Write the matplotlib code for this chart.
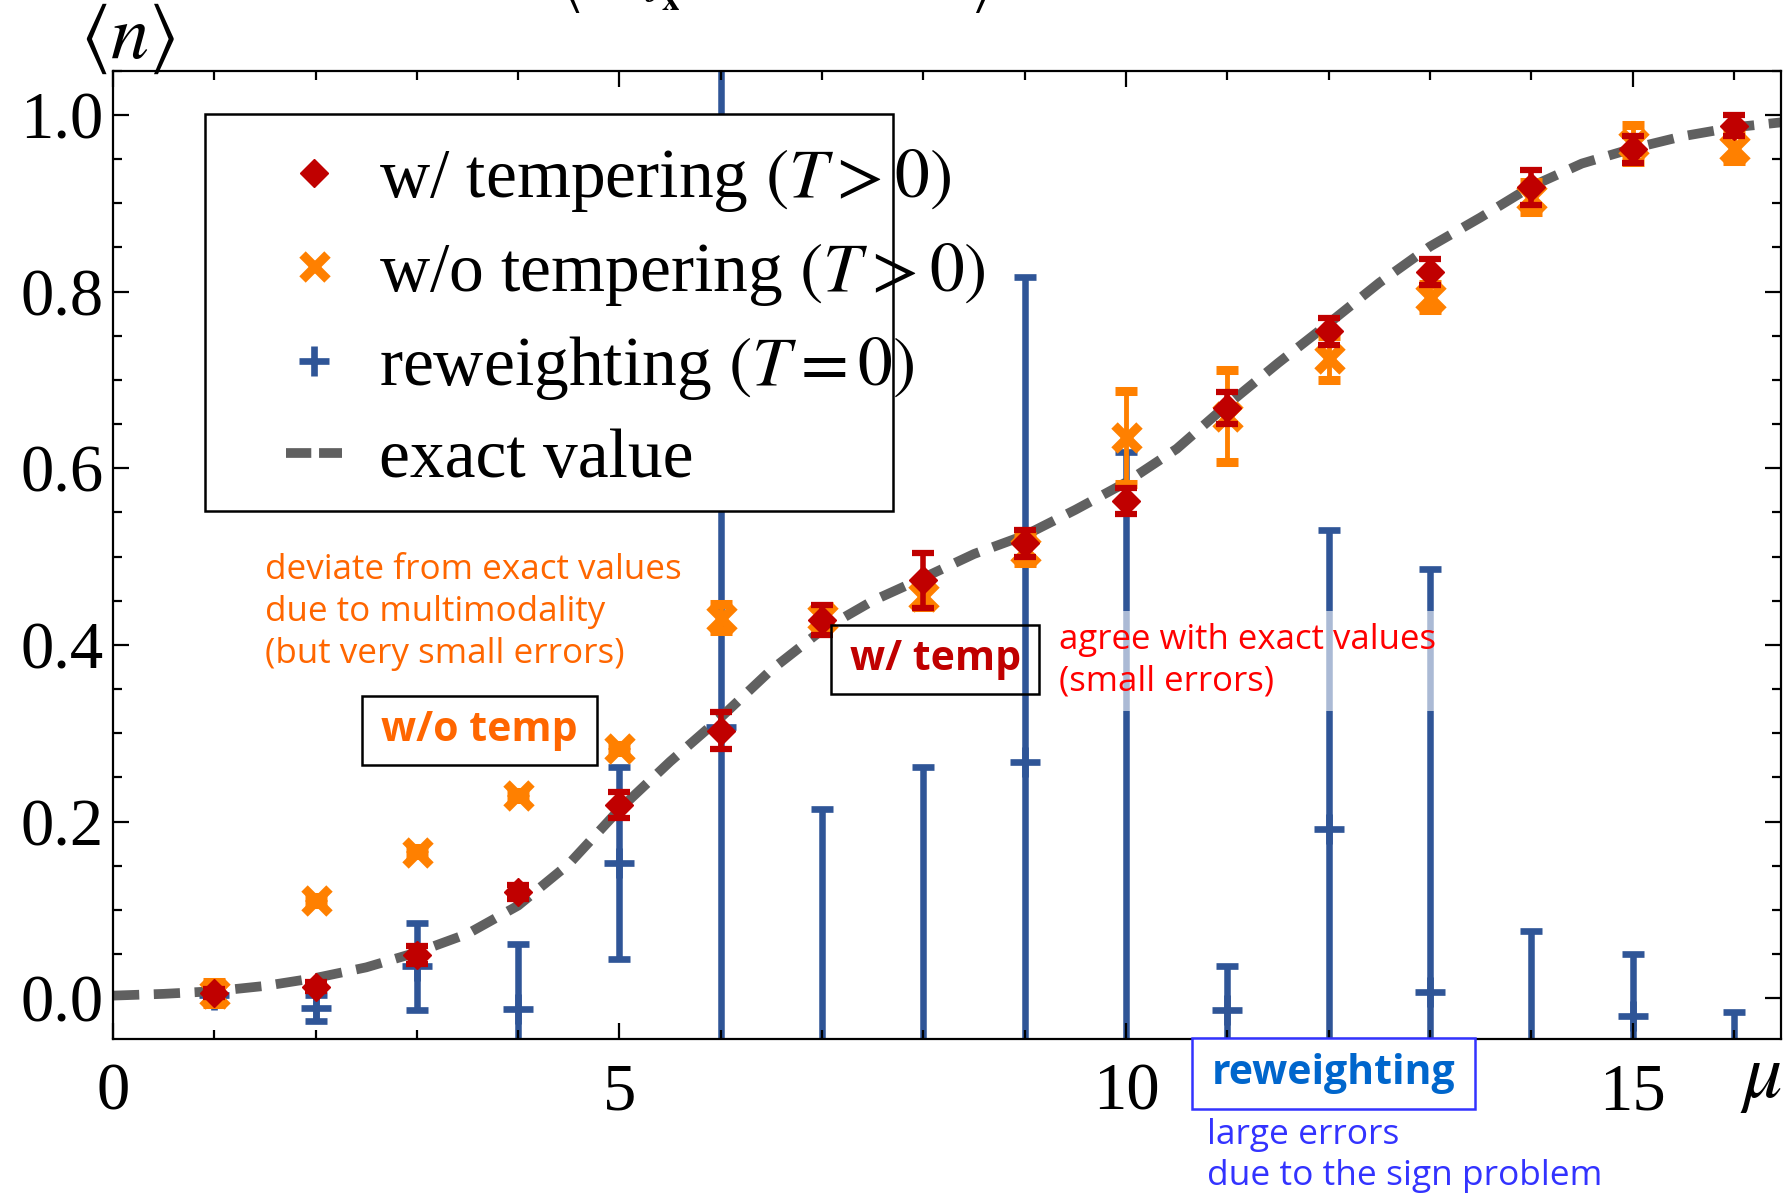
import matplotlib
matplotlib.use("Agg")
import matplotlib.pyplot as plt
from matplotlib.lines import Line2D
from matplotlib.patches import Rectangle
from matplotlib.ticker import MultipleLocator

plt.rcParams['font.family'] = 'Liberation Serif'
plt.rcParams['mathtext.fontset'] = 'stix'

# chemical potential points
mu = [1, 2, 3, 4, 5, 6, 7, 8, 9, 10, 11, 12, 13, 14, 15, 16]

# with tempering (T > 0)
n_temp = [0.006, 0.013, 0.049, 0.120, 0.219, 0.303, 0.428, 0.473, 0.515, 0.563,
          0.668, 0.755, 0.822, 0.918, 0.961, 0.988]
err_temp = [0.005, 0.005, 0.010, 0.008, 0.015, 0.021, 0.017, 0.031, 0.015, 0.015,
            0.018, 0.015, 0.015, 0.020, 0.015, 0.012]

# without tempering (T > 0)
n_notemp = [0.006, 0.111, 0.166, 0.230, 0.283, 0.431, 0.432, 0.455, 0.508, 0.635,
            0.659, 0.725, 0.794, 0.907, 0.968, 0.963]
err_notemp = [0.012, 0.004, 0.004, 0.004, 0.004, 0.015, 0.012, 0.012, 0.015, 0.053,
              0.052, 0.025, 0.015, 0.017, 0.021, 0.015]

# reweighting (T = 0)
n_rew = [0.004, -0.011, 0.036, -0.012, 0.153, 0.307, -0.100, -0.120, 0.268, -0.250,
         -0.013, 0.192, 0.007, -0.090, -0.020, -0.075]
err_rew = [0.006, 0.015, 0.049, 0.073, 0.109, 0.900, 0.314, 0.382, 0.548, 0.868,
           0.049, 0.338, 0.479, 0.166, 0.070, 0.060]

# exact curve
mu_exact = [0.0, 0.5, 1.0, 1.5, 2.0, 2.5, 3.0, 3.5, 4.0, 4.5, 5.0, 5.5, 6.0, 6.5,
            7.0, 7.5, 8.0, 8.5, 9.0, 9.5, 10.0, 10.5, 11.0, 11.5, 12.0, 12.5,
            13.0, 13.5, 14.0, 14.5, 15.0, 15.5, 16.0, 16.5]
n_exact = [0.003, 0.005, 0.008, 0.014, 0.023, 0.035, 0.052, 0.073, 0.105, 0.152,
           0.214, 0.268, 0.318, 0.372, 0.417, 0.450, 0.476, 0.503, 0.524, 0.553,
           0.584, 0.622, 0.672, 0.719, 0.764, 0.810, 0.851, 0.884, 0.919, 0.945,
           0.962, 0.976, 0.986, 0.992]

c_red = '#C00000'
c_orange = '#FF8000'
c_blue = '#2F5597'
c_gray = '#606060'

fig = plt.figure(figsize=(17.85, 11.98), dpi=100)
ax = fig.add_axes([0.0633, 0.1328, 0.9347, 0.8081])

ax.errorbar(mu, n_rew, yerr=err_rew, fmt='+', color=c_blue, ms=22, mew=4.8,
            elinewidth=4.7, capsize=8, capthick=4.7, zorder=1)
ax.plot(mu_exact, n_exact, color=c_gray, lw=7, ls=(0, (2.7, 1.5)),
        dash_capstyle='butt', zorder=2)
ax.errorbar(mu, n_notemp, yerr=err_notemp, fmt='x', color=c_orange, ms=18, mew=6.5,
            elinewidth=3.5, capsize=8, capthick=4.5, zorder=3)
ax.errorbar(mu, n_temp, yerr=err_temp, fmt='D', color=c_red, ms=14,
            elinewidth=4, capsize=8, capthick=4.5, zorder=4)

ax.set_xlim(0, 16.47)
ax.set_ylim(-0.046, 1.05)
ax.xaxis.set_minor_locator(MultipleLocator(1))
ax.yaxis.set_minor_locator(MultipleLocator(0.05))
ax.set_xticks([0, 5, 10, 15])
ax.set_xticklabels(['0', '5', '10', '15'])
ax.set_yticks([0, 0.2, 0.4, 0.6, 0.8, 1.0])
ax.set_yticklabels(['0.0', '0.2', '0.4', '0.6', '0.8', '1.0'])
ax.tick_params(which='both', direction='in', top=True, right=True, width=1.6,
               labelsize=48)
ax.tick_params(which='major', length=11.5)
ax.tick_params(which='minor', length=6.5)
ax.tick_params(axis='y', pad=7)
ax.tick_params(axis='x', pad=17)
for sp in ax.spines.values():
    sp.set_linewidth(1.6)

# axis labels
fig.text(0.0714, 0.968, r'$\langle n\rangle$', fontsize=55, ha='center', va='center')
fig.text(0.9866, 0.099, r'$\mu$', fontsize=56, ha='center', va='center')

# formula above the frame, only its lower edge is on the canvas
top_y = 1 - 15 / 1198
fig.text(0.319, top_y, r'$\langle$', fontsize=44, ha='center', va='bottom')
fig.text(0.371, top_y + 0.002, r'$\int_{\mathbf{x}}$', fontsize=36, ha='center', va='bottom')
fig.text(0.550, top_y, r'$\rangle$', fontsize=44, ha='center', va='bottom')

# legend frame and entries
ax.add_patch(Rectangle((0.0551, 0.5453), 0.4124, 0.4101, transform=ax.transAxes,
                       facecolor='white', edgecolor='black', lw=1.8, zorder=4.9))
handles = [
    Line2D([], [], marker='D', color=c_red, ms=14, ls='none'),
    Line2D([], [], marker='x', color=c_orange, ms=18, mew=6.5, ls='none'),
    Line2D([], [], marker='+', color=c_blue, ms=22, mew=4.8, ls='none'),
    Line2D([], [], color=c_gray, lw=7, ls=(0, (2.6, 0.8)), dash_capstyle='butt'),
]
labels = [r'w/ tempering $(T > 0)$', r'w/o tempering $(T > 0)$',
          r'reweighting $(T = 0)$', 'exact value']
ax.legend(handles, labels, loc='upper left', bbox_to_anchor=(0.1034, 0.921),
          frameon=False, fontsize=50, handlelength=0.82, handletextpad=0.52,
          labelspacing=0.38, borderpad=0, borderaxespad=0)

# annotations
sans = 'Open Sans'
ax.text(1.50, 0.437, 'deviate from exact values\ndue to multimodality\n(but very small errors)',
        color='#FF6600', fontsize=25.2, family=sans, ha='left', va='center',
        linespacing=1.3, zorder=6)

ax.add_patch(Rectangle((2.458, 0.2641), 2.315, 0.0786, facecolor='none',
                       edgecolor='black', lw=1.8, zorder=6))
ax.text(3.615, 0.3034, 'w/o temp', color='#FF6600', fontsize=29.5, family=sans,
        weight='bold', ha='center', va='center', zorder=6)

ax.add_patch(Rectangle((7.088, 0.344), 2.057, 0.0786, facecolor='none',
                       edgecolor='black', lw=1.8, zorder=6))
ax.text(8.116, 0.383, 'w/ temp', color=c_red, fontsize=29.5, family=sans,
        weight='bold', ha='center', va='center', zorder=6)

ax.text(9.335, 0.382, 'agree with exact values\n(small errors)', color='#FF0000',
        fontsize=25, family=sans, ha='left', va='center', linespacing=1.3, zorder=6,
        bbox=dict(boxstyle='square,pad=0.35', facecolor='white', edgecolor='none', alpha=0.6))

ax.add_patch(Rectangle((10.65, -0.1256), 2.80, 0.0806, facecolor='white',
                       edgecolor='#3333FF', lw=1.8, zorder=6, clip_on=False))
ax.text(12.05, -0.0855, 'reweighting', color='#0066CC', fontsize=29.5, family=sans,
        weight='bold', ha='center', va='center', zorder=6, clip_on=False)
ax.text(10.80, -0.178, 'large errors\ndue to the sign problem', color='#3333FF',
        fontsize=25.5, family=sans, ha='left', va='center', linespacing=1.3,
        clip_on=False, zorder=6)

fig.savefig('out.png', dpi=100)
